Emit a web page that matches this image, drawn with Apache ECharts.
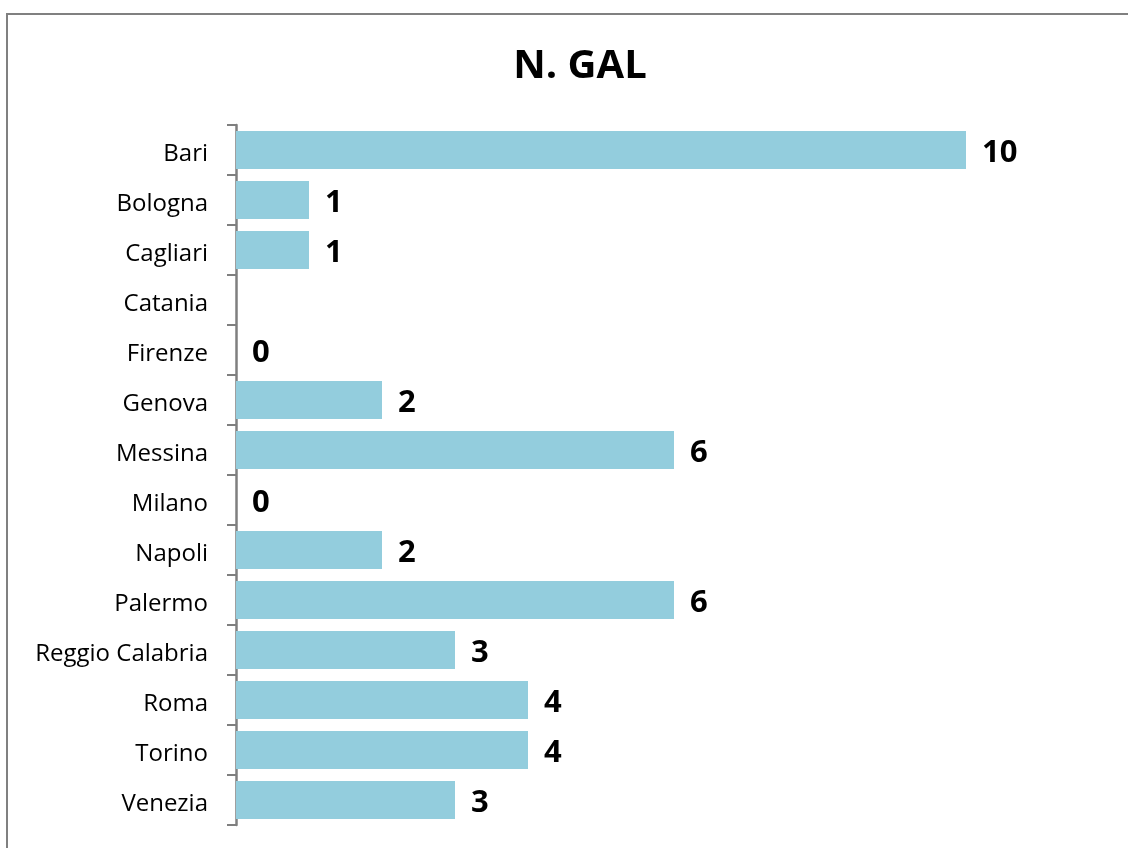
<!DOCTYPE html>
<html><head><meta charset="utf-8">
<script src="https://cdn.jsdelivr.net/npm/echarts@6/dist/echarts.min.js"></script>
<style>html,body{margin:0;padding:0;background:#fff}#c{width:1128px;height:848px}</style>
</head><body><div id="c"></div>
<script>
const title = 'N. GAL';
const categories = ['Bari','Bologna','Cagliari','Catania','Firenze','Genova','Messina','Milano','Napoli','Palermo','Reggio Calabria','Roma','Torino','Venezia'];
const values = [10,1,1,null,0,2,6,0,2,6,3,4,4,3];

const chart = echarts.init(document.getElementById('c'), null, {renderer:'canvas'});
chart.setOption({
  animation:false,
  backgroundColor:'#fff',
  graphic:[{type:'rect',shape:{x:7,y:14,width:1200,height:900},style:{fill:'none',stroke:'#808080',lineWidth:2},z:-1}],
  title:{text:title,left:575,top:42,textAlign:'center',textStyle:{fontFamily:'Open Sans',fontWeight:'bold',fontSize:40,color:'#000'}},
  grid:{left:236,right:162,top:125,bottom:23},
  xAxis:{type:'value',min:0,max:10,show:false},
  yAxis:{type:'category',data:categories,inverse:true,
    axisLine:{lineStyle:{color:'#7f7f7f',width:2.5}},
    axisTick:{show:true,length:9,lineStyle:{color:'#7f7f7f',width:2}},
    axisLabel:{color:'#000',margin:28,formatter:v=>'{a|'+v+'}',
      rich:{a:{fontFamily:'Open Sans',fontSize:24,color:'#000',padding:[8,0,0,0]}}}},
  series:[{type:'bar',data:values,barCategoryGap:'24%',itemStyle:{color:'#93CDDD'},
    label:{show:true,position:'right',distance:16,offset:[0,3],fontFamily:'Open Sans',fontWeight:'bold',fontSize:31,color:'#000'}}]
});
</script></body></html>
